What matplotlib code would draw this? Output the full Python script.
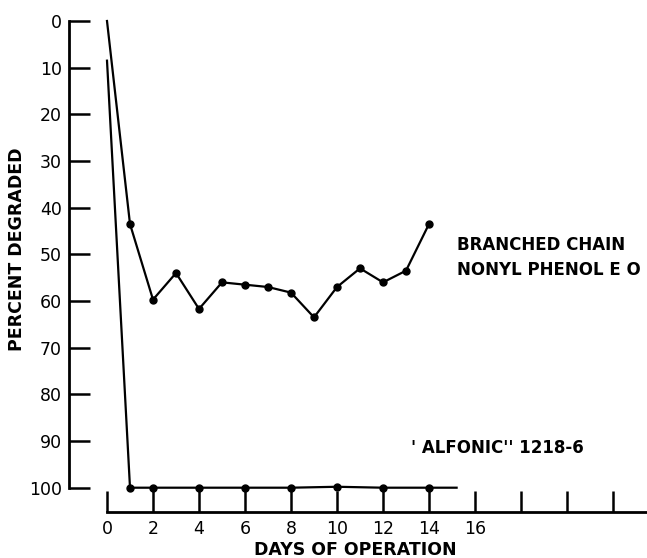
import numpy as np
import matplotlib
matplotlib.use("Agg")
import matplotlib.pyplot as plt

# Branched chain nonyl phenol E.O.
branched_days = [0, 1, 2, 3, 4, 5, 6, 7, 8, 9, 10, 11, 12, 13, 14]
branched_pct = [0, 43.5, 59.7, 54, 61.7, 56, 56.5, 57, 58.2, 63.5, 57, 53, 56, 53.5, 43.5]

# "Alfonic" 1218-6
alfonic_days = [0, 1, 2, 4, 6, 8, 10, 12, 14, 15.2]
alfonic_pct = [8.5, 100, 100, 100, 100, 100, 99.8, 100, 100, 100]

x_ticks = [0, 2, 4, 6, 8, 10, 12, 14, 16, 18, 20, 22]
x_labels = ["0", "2", "4", "6", "8", "10", "12", "14", "16", "", "", ""]
y_ticks = [0, 10, 20, 30, 40, 50, 60, 70, 80, 90, 100]

plt.rcParams['font.family'] = ['DejaVu Sans']

fig = plt.figure(figsize=(6.47, 5.58), dpi=100)
ax = fig.add_axes([0, 0, 1, 1])
ax.set_xlim(-107 / 23, 540 / 23)
ax.set_ylim(537 / 4.667, -21 / 4.667)

lw = 1.6
ax.plot(branched_days, branched_pct, color="black", lw=lw,
        marker="o", ms=5, markevery=list(range(1, len(branched_days))))
ax.plot(alfonic_days, alfonic_pct, color="black", lw=lw,
        marker="o", ms=5, markevery=list(range(1, len(alfonic_days) - 1)))

# axes drawn as separated spines, like the original
for s in ["top", "right"]:
    ax.spines[s].set_visible(False)
ax.spines["left"].set_position(("data", -1.652))
ax.spines["left"].set_bounds(0, 100)
ax.spines["bottom"].set_position(("data", 105.2))
ax.spines["bottom"].set_bounds(0, 23.5)
for s in ["left", "bottom"]:
    ax.spines[s].set_linewidth(2)

ax.set_yticks(y_ticks)
ax.set_xticks(x_ticks)
ax.set_xticklabels(x_labels)
ax.tick_params(axis="y", direction="in", length=15, width=1.8, pad=5, labelsize=12.5)
ax.tick_params(axis="x", direction="in", length=15, width=1.8, pad=6, labelsize=12.5)

ax.text(-3.91, 49, "PERCENT DEGRADED", rotation=90, ha="center", va="center",
        fontsize=12.5, fontweight="bold")
ax.text(10.8, 113.4, "DAYS OF OPERATION", ha="center", va="center",
        fontsize=12.5, fontweight="bold")
ax.text(15.22, 50.7, "BRANCHED CHAIN\nNONYL PHENOL E O", ha="left", va="center",
        fontsize=12, fontweight="bold", linespacing=1.45)
ax.text(13.2, 91.5, "' ALFONIC'' 1218-6", ha="left", va="center",
        fontsize=12, fontweight="bold")

fig.savefig("out.png", dpi=100)
